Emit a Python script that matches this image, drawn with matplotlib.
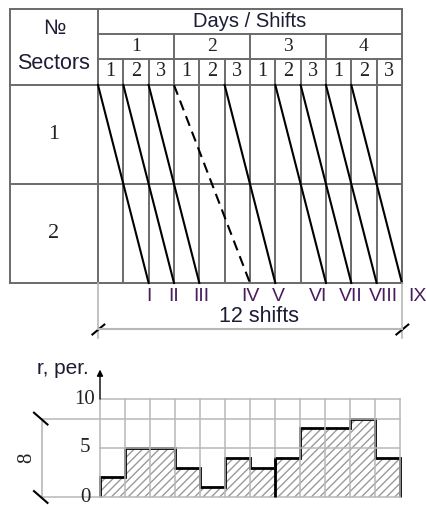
import matplotlib
matplotlib.use('Agg')
import matplotlib.pyplot as plt

# data
days = ['1', '2', '3', '4']
shifts_in_day = ['1', '2', '3']
sectors = ['1', '2']
flow_start = [0, 1, 2, 3, 5, 7, 8, 9, 10]
flow_end = [2, 3, 4, 6, 7, 9, 10, 11, 12]
flow_dashed = [False, False, False, True, False, False, False, False, False]
flow_labels = ['I', 'II', 'III', 'IV', 'V', 'VI', 'VII', 'VIII', 'IX']
workers = [2, 5, 5, 3, 1, 4, 3, 4, 7, 7, 8, 4]
r_ticks = [0, 5, 10]
r_max = 8
n_shifts = 12

W, H = 427, 505
fig = plt.figure(figsize=(W / 100, H / 100), dpi=100)

SANS = ['Liberation Sans', 'DejaVu Sans']
SERIF = ['Liberation Serif', 'DejaVu Serif']
tcol = '#6a6a6a'
gcol = '#b8b8b8'
ink = '#1c1c34'

# ---------- cyclogram (top) ----------
ax = fig.add_axes([0, (H - 345) / H, 1, 345 / H])
ax.axis('off')
sw = 25.33   # px per shift
rh = 99.0    # px per sector row
ax.set_xlim(-98 / sw, (W - 98) / sw)
ax.set_ylim((283 - 345) / rh, 283 / rh)

n_sec = len(sectors)
left = -88 / sw
top = n_sec + 274 / rh - 2
y_ds = n_sec + 0.515
y_day = n_sec + 0.26
lw = 1.4

# horizontal lines
for y in [top, 0] + list(range(1, n_sec + 1)):
    ax.plot([left, n_shifts], [y, y], color=tcol, lw=lw)
for y in [y_ds, y_day]:
    ax.plot([0, n_shifts], [y, y], color=tcol, lw=lw)
# vertical lines
ax.plot([left, left], [0, top], color=tcol, lw=lw)
for s in range(n_shifts + 1):
    if s in (0, n_shifts):
        ax.plot([s, s], [0, top], color=tcol, lw=lw)
    elif s % 3 == 0:
        ax.plot([s, s], [0, y_ds], color=tcol, lw=lw)
    else:
        ax.plot([s, s], [0, y_day], color=tcol, lw=lw)

# header texts
ax.text(left / 2, n_sec + 0.566, '№', ha='center', va='center', fontsize=15, family=SANS, color=ink)
ax.text(left / 2, n_sec + 0.222, 'Sectors', ha='center', va='center', fontsize=15.5, family=SANS, color=ink)
ax.text(n_shifts / 2, (top + y_ds) / 2, 'Days / Shifts', ha='center', va='center',
        fontsize=14.5, family=SANS, color=ink)
for i, d in enumerate(days):
    ax.text(i * 3 + 1.5, (y_ds + y_day) / 2, d, ha='center', va='center', fontsize=14,
            family=SERIF, color='#222')
    for j, s in enumerate(shifts_in_day):
        ax.text(i * 3 + j + 0.5, (y_day + n_sec) / 2 + 0.01, s, ha='center', va='center',
                fontsize=14.5, family=SERIF, color='#222')
for k, sec in enumerate(sectors):
    ax.text(left / 2, n_sec - k - 0.5, sec, ha='center', va='center', fontsize=16,
            family=SERIF, color='#222')

# flow lines
label_dx = [0, 0, 0.08, 0, 0.12, -0.32, -0.04, 0.28, 0.6]  # hand placement of labels
for s0, s1, dsh, lab, dx in zip(flow_start, flow_end, flow_dashed, flow_labels, label_dx):
    ax.plot([s0, s1], [n_sec, 0], color='black', lw=1.5,
            ls=(0, (5, 3)) if dsh else '-')
    ax.text(s1 + dx, -0.14, lab, ha='center', va='center', fontsize=14, family=SANS,
            color='#4a1d5e')

# dimension "12 shifts"
y_dim = -0.465
for xe in (0, n_shifts):
    ax.plot([xe, xe], [0, -0.556], color=gcol, lw=1.2)
    ax.plot([xe - 0.22, xe + 0.25], [y_dim - 0.055, y_dim + 0.045], color='black', lw=1.5)
ax.plot([0, n_shifts], [y_dim, y_dim], color=gcol, lw=1.5)
ax.text(6.35, -0.343, f'{n_shifts} shifts', ha='center', va='center', fontsize=15.5,
        family=SANS, color=ink)

# ---------- workers histogram (bottom) ----------
bx = fig.add_axes([0, 0, 1, 145 / H])
bx.axis('off')
px_x, px_y = 25.0, 9.8
bx.set_xlim(-100 / px_x, (W - 100) / px_x)
bx.set_ylim((497 - 505) / px_y, (497 - 360) / px_y)

x_dim = -58 / px_x
for s in range(n_shifts + 1):
    bx.plot([s, s], [0, r_ticks[-1]], color=gcol, lw=1.1)
for y in [5, 10]:
    bx.plot([0, n_shifts], [y, y], color=gcol, lw=1.1)
for y in [0, r_max]:
    bx.plot([x_dim, n_shifts], [y, y], color=gcol, lw=1.1)

edges = list(range(n_shifts + 1))
bx.stairs(workers, edges, baseline=0, fill=True, facecolor='none', edgecolor='#9a9a9a',
          hatch='////', lw=0)
bx.stairs(workers, edges, baseline=0, color='black', lw=2)
bx.plot([7, 7], [0, workers[7]], color='black', lw=2, solid_capstyle='butt')

for t in r_ticks:
    bx.text(-0.6, t, str(t), ha='center', va='center', fontsize=15, family=SERIF, color='#222')

# y axis arrow
bx.annotate('', xy=(0, 13.0), xytext=(0, 10), annotation_clip=False,
            arrowprops=dict(arrowstyle='-|>', color='black', lw=1.0, mutation_scale=9,
                            shrinkA=0, shrinkB=0))
bx.text(-0.45, 13.1, 'r, per.', ha='right', va='center', fontsize=15, family=SANS, color=ink)

# dimension "8"
bx.plot([x_dim, x_dim], [0, r_max], color=gcol, lw=1.2)
for y in (0, r_max):
    bx.plot([x_dim - 0.32, x_dim + 0.22], [y + 0.6, y - 0.6], color='black', lw=1.5)
bx.text(x_dim - 0.6, r_max / 2, str(r_max), rotation=90, ha='center', va='center',
        fontsize=15, family=SERIF, color='#222')

fig.savefig('out.png', dpi=100)
